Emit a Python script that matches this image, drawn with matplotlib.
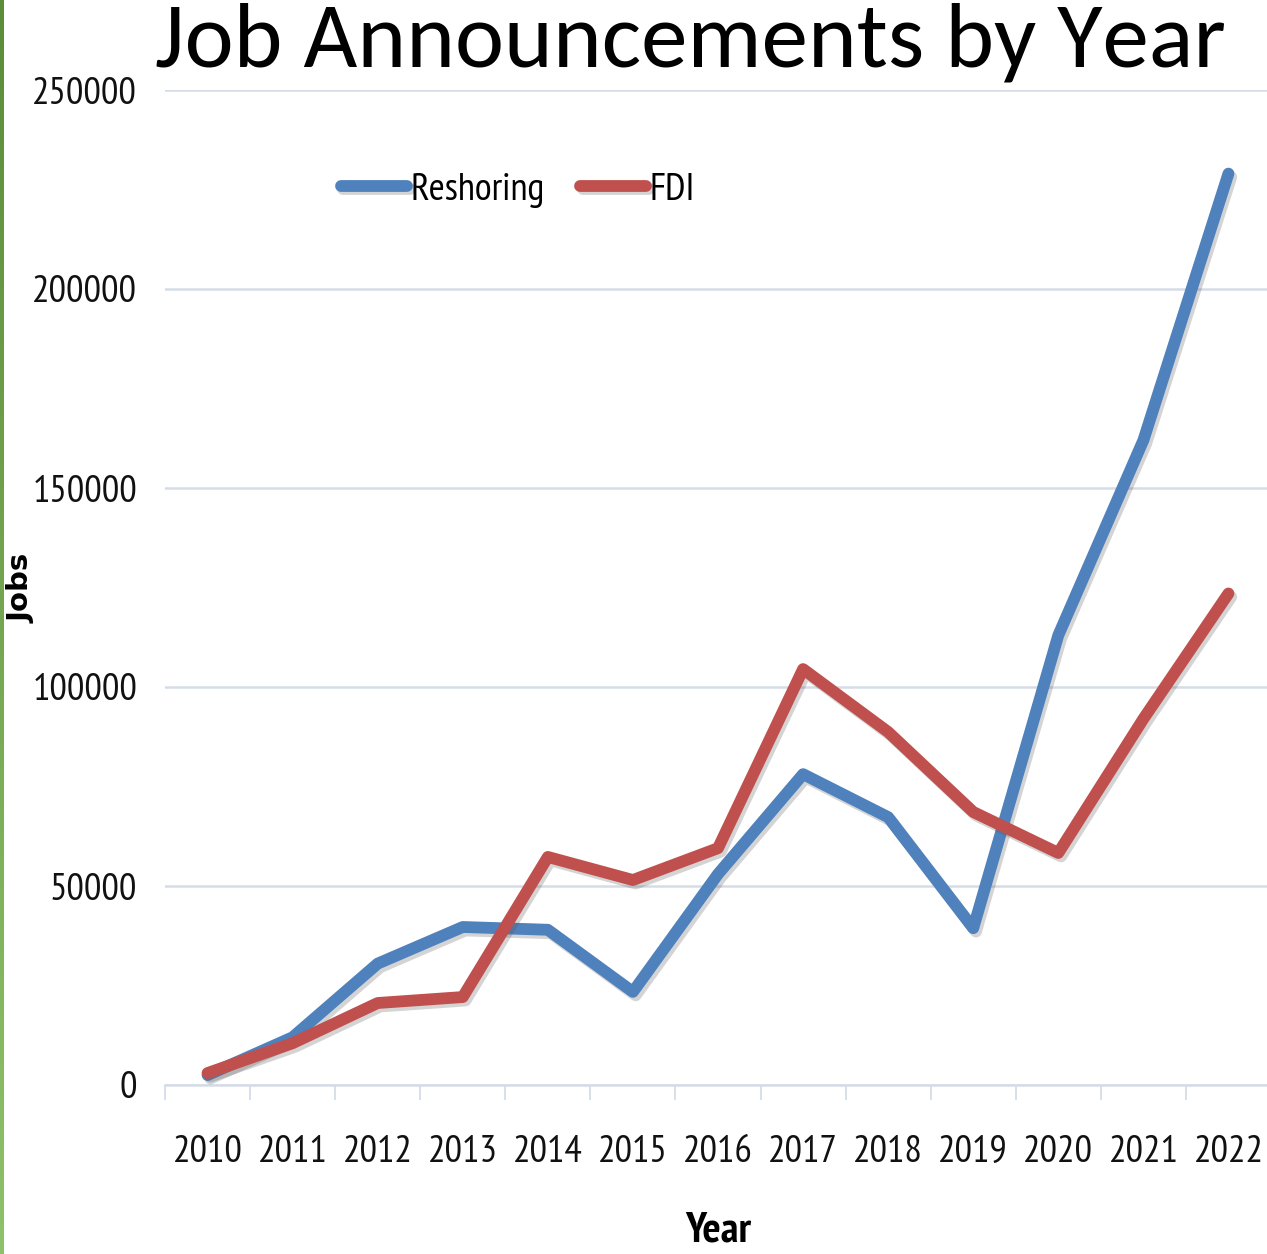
import numpy as np
import matplotlib
matplotlib.use("Agg")
import matplotlib.pyplot as plt
import matplotlib.patheffects as pe
from matplotlib.colors import LinearSegmentedColormap

# data
years = ["2010", "2011", "2012", "2013", "2014", "2015", "2016",
         "2017", "2018", "2019", "2020", "2021", "2022"]
reshoring = [2500, 12000, 30500, 39700, 39000, 23400, 53000,
             78100, 67300, 39400, 113000, 162000, 229000]
fdi = [3000, 10500, 20600, 22100, 57300, 51500, 59500,
       104500, 88700, 68600, 58300, 92000, 123500]
yticks = [0, 50000, 100000, 150000, 200000, 250000]

narrow = ["PT Sans Narrow", "DejaVu Sans"]
grid_col = "#D5DCE8"

fig = plt.figure(figsize=(12.67, 12.54), dpi=100)
ax = fig.add_axes([165 / 1267, 169 / 1254, 1106 / 1267, 995 / 1254])

shadow = [pe.SimpleLineShadow(offset=(2, -2.5), alpha=0.25, shadow_color="#555555"),
          pe.Normal()]
ax.plot(years, reshoring, color="#4F81BD", lw=8.5, label="Reshoring",
        solid_capstyle="round", solid_joinstyle="round", path_effects=shadow, zorder=3)
ax.plot(years, fdi, color="#C0504D", lw=8.5, label="FDI",
        solid_capstyle="round", solid_joinstyle="round", path_effects=shadow, zorder=4)

ax.set_xlim(-0.5, 12.5)
ax.set_ylim(0, 250000)
ax.set_yticks(yticks)
ax.set_yticklabels([str(v) for v in yticks], family=narrow, fontsize=28)
ax.set_xticks(range(len(years)))
ax.set_xticklabels(years, family=narrow, fontsize=28)
ax.set_xticks(np.arange(-0.5, 13, 1), minor=True)
ax.tick_params(axis="x", which="major", length=0, pad=36, labelcolor="#111111")
ax.tick_params(axis="x", which="minor", length=11, width=1.3, color=grid_col)
ax.tick_params(axis="y", length=0, pad=20, labelcolor="#111111")

ax.grid(axis="y", color=grid_col, lw=1.8)
ax.set_axisbelow(True)
for s in ["top", "right", "left"]:
    ax.spines[s].set_visible(False)
ax.spines["bottom"].set_color(grid_col)
ax.spines["bottom"].set_linewidth(1.8)

ax.set_xlabel("Year", family=narrow, fontsize=31, fontweight="bold", labelpad=30)
fig.text(22 / 1267, 1 - 588 / 1254, "Jobs", rotation=90, fontsize=21,
         fontweight="bold", ha="center", va="center", family="DejaVu Sans")

leg = ax.legend(loc="center", bbox_to_anchor=(518 / 1267, 1 - 190 / 1254),
                bbox_transform=fig.transFigure, ncol=2, frameon=False,
                prop={"family": narrow, "size": 28}, handlelength=1.7,
                handletextpad=0.1, columnspacing=0.9)

fig.text(690 / 1267, 1 - 67 / 1254, "Job Announcements by Year", fontsize=67,
         family=["Carlito", "DejaVu Sans"], ha="center", va="baseline")

# green slide edge on the left
gax = fig.add_axes([0, 0, 4 / 1267, 1])
grad = np.linspace(0, 1, 256).reshape(-1, 1)
gax.imshow(grad, aspect="auto",
           cmap=LinearSegmentedColormap.from_list("g", ["#5B8C3A", "#8EC26A"]))
gax.axis("off")

fig.savefig("out.png", dpi=100, facecolor="white")
